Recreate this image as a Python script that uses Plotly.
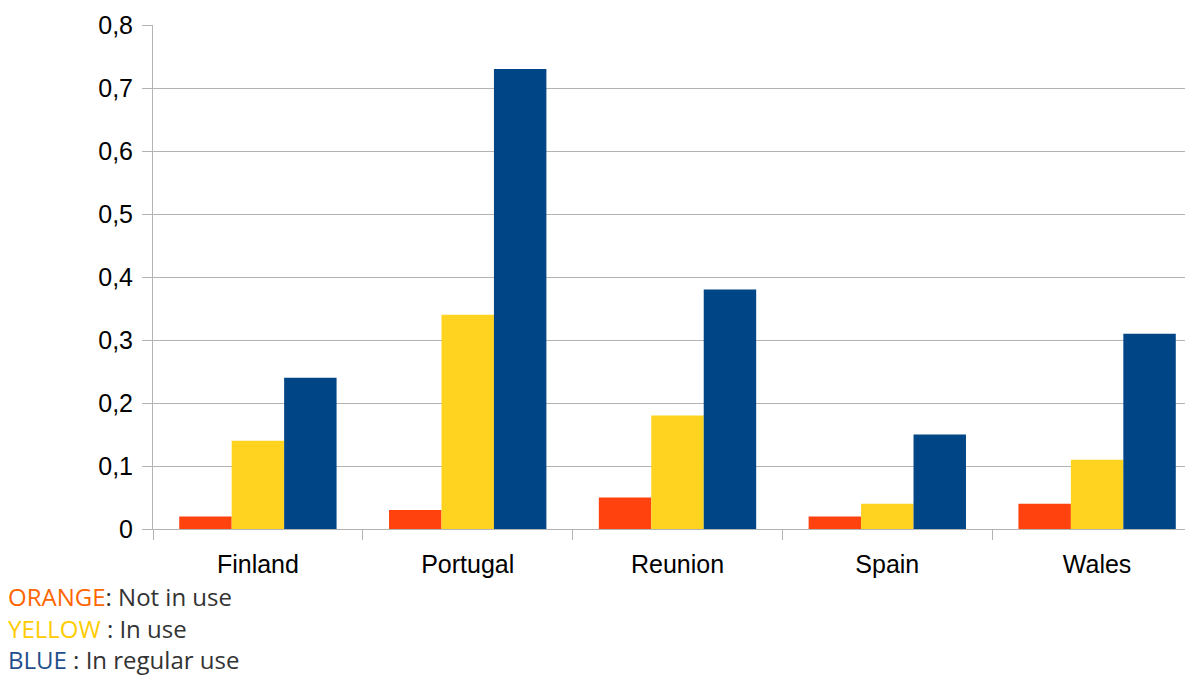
import plotly.graph_objects as go

categories = ["Finland", "Portugal", "Reunion", "Spain", "Wales"]
not_in_use = [0.02, 0.03, 0.05, 0.02, 0.04]
in_use = [0.14, 0.34, 0.18, 0.04, 0.11]
regular_use = [0.24, 0.73, 0.38, 0.15, 0.31]
y_tickvals = [0, 0.1, 0.2, 0.3, 0.4, 0.5, 0.6, 0.7, 0.8]
y_ticktext = ["0", "0,1", "0,2", "0,3", "0,4", "0,5", "0,6", "0,7", "0,8"]

fig = go.Figure()
fig.add_bar(x=categories, y=not_in_use, name="Not in use", marker=dict(color="#FF420E", line=dict(width=0)))
fig.add_bar(x=categories, y=in_use, name="In use", marker=dict(color="#FFD320", line=dict(width=0)))
fig.add_bar(x=categories, y=regular_use, name="In regular use", marker=dict(color="#004586", line=dict(width=0)))

# page body has an 8px margin; compensate
OFF = 8
W, H = 1193 - OFF, 675 - OFF
L, R, T, B = 153 - OFF, 0, 25 - OFF, 146
pw, ph = W - L - R, H - T - B
cat_px = 209.8  # the reference's plot area runs past the right edge of the picture
x_hi = -0.5 + pw / cat_px

fig.update_layout(
    width=W, height=H,
    margin=dict(l=L, r=R, t=T, b=B, pad=0),
    barmode="group", bargap=0.25, bargroupgap=0,
    plot_bgcolor="white", paper_bgcolor="white",
    showlegend=False,
    font=dict(family="Liberation Sans", size=25, color="black"),
    separators=",.",
)
fig.update_xaxes(
    range=[-0.5, x_hi],
    showline=True, linecolor="#b3b3b3", linewidth=1,
    ticks="outside", tickson="boundaries", ticklen=10, tickcolor="#b3b3b3",
    ticklabelstandoff=13,
    showgrid=False, tickfont=dict(family="Liberation Sans", size=25, color="black"),
)
fig.update_yaxes(
    range=[0, 0.8], tickvals=y_tickvals, ticktext=y_ticktext,
    showline=True, linecolor="#b3b3b3", linewidth=1,
    ticks="outside", ticklen=10, tickcolor="#b3b3b3",
    ticklabelstandoff=4,
    showgrid=True, gridcolor="#b3b3b3", gridwidth=1, zeroline=False,
    tickfont=dict(family="Liberation Sans", size=25, color="black"),
)

legend_lines = [
    ("ORANGE", "#FF6600", ": Not in use"),
    ("YELLOW", "#FFCC00", " : In use"),
    ("BLUE", "#1F4E8C", " : In regular use"),
]
line_y = [596, 628, 659]
for (word, col, rest), yp in zip(legend_lines, line_y):
    fig.add_annotation(
        xref="paper", yref="paper",
        x=(6 - OFF - L) / pw, y=(H - B - (yp - OFF)) / ph,
        xanchor="left", yanchor="middle", showarrow=False,
        text=f"<span style='color:{col}'>{word}</span>{rest}",
        font=dict(family="Open Sans", size=24, color="#333333"),
        align="left",
    )

fig.write_html("out.html")
